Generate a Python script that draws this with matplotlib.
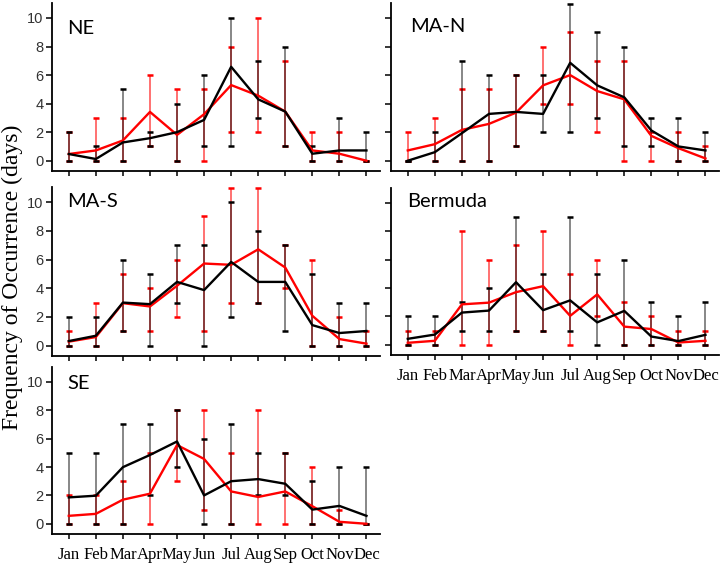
import matplotlib
matplotlib.use('Agg')
import matplotlib.pyplot as plt
import numpy as np

months = ['Jan', 'Feb', 'Mar', 'Apr', 'May', 'Jun', 'Jul', 'Aug', 'Sep', 'Oct', 'Nov', 'Dec']
yticks = [0, 2, 4, 6, 8, 10]

# NE
ne_black = [0.47, 0.12, 1.28, 1.58, 2.0, 2.86, 6.58, 4.3, 3.44, 0.49, 0.72, 0.72]
ne_red = [0.47, 0.72, 1.42, 3.42, 1.81, 3.26, 5.3, 4.56, 3.44, 0.72, 0.49, 0.0]
ne_black_lo = [0, 0, 0, 1, 0, 1, 1, 3, 1, 0, 0, 0]
ne_black_hi = [2, 1, 5, 2, 4, 6, 10, 7, 8, 1, 3, 2]
ne_red_lo = [0, 0, 0, 1, 0, 0, 2, 2, 1, 0, 0, 0]
ne_red_hi = [2, 3, 3, 6, 5, 5, 8, 10, 7, 2, 2, 0]

# MA-N
man_black = [0.0, 0.6, 1.93, 3.28, 3.42, 3.28, 6.86, 5.28, 4.44, 2.12, 1.0, 0.72]
man_red = [0.72, 1.16, 2.16, 2.58, 3.37, 5.28, 6.0, 4.88, 4.3, 1.74, 0.88, 0.16]
man_black_lo = [0, 0, 0, 0, 1, 2, 2, 3, 1, 1, 0, 0]
man_black_hi = [0, 2, 7, 6, 6, 6, 11, 9, 8, 3, 3, 2]
man_red_lo = [0, 0, 0, 0, 1, 4, 4, 2, 0, 0, 0, 0]
man_red_hi = [2, 3, 5, 5, 6, 8, 9, 7, 7, 2, 2, 1]

# MA-S
mas_black = [0.32, 0.69, 3.0, 2.89, 4.44, 3.87, 5.83, 4.44, 4.44, 1.43, 0.88, 1.02]
mas_red = [0.28, 0.6, 2.96, 2.73, 4.17, 5.72, 5.63, 6.71, 5.44, 2.08, 0.46, 0.14]
mas_black_lo = [0, 0, 1, 0, 3, 0, 2, 3, 1, 0, 0, 0]
mas_black_hi = [2, 2, 6, 5, 7, 7, 10, 8, 7, 5, 3, 3]
mas_red_lo = [0, 0, 1, 1, 2, 1, 3, 3, 4, 0, 0, 0]
mas_red_hi = [1, 3, 5, 4, 6, 9, 11, 11, 7, 6, 2, 1]

# Bermuda
ber_black = [0.42, 0.72, 2.27, 2.41, 4.41, 2.44, 3.13, 1.58, 2.39, 0.58, 0.26, 0.7]
ber_red = [0.14, 0.28, 2.85, 2.97, 3.71, 4.13, 2.04, 3.55, 1.28, 1.11, 0.16, 0.28]
ber_black_lo = [0, 0, 1, 1, 1, 1, 1, 0, 0, 0, 0, 0]
ber_black_hi = [2, 2, 3, 4, 9, 5, 9, 5, 6, 3, 2, 3]
ber_red_lo = [0, 0, 0, 0, 1, 1, 0, 2, 0, 0, 0, 0]
ber_red_hi = [1, 1, 8, 6, 7, 8, 5, 6, 3, 2, 1, 1]

# SE
se_black = [1.86, 1.98, 3.99, 4.85, 5.8, 2.0, 3.0, 3.15, 2.82, 1.0, 1.26, 0.56]
se_red = [0.56, 0.7, 1.7, 2.12, 5.55, 4.57, 2.28, 1.89, 2.28, 1.24, 0.14, 0.0]
se_black_lo = [0, 0, 0, 2, 4, 0, 0, 2, 2, 0, 0, 0]
se_black_hi = [5, 5, 7, 7, 8, 6, 7, 5, 5, 3, 4, 4]
se_red_lo = [0, 0, 0, 0, 3, 1, 0, 0, 0, 0, 0, 0]
se_red_hi = [2, 2, 3, 5, 8, 8, 5, 8, 5, 4, 1, 0]

W, H = 727, 568
fig = plt.figure(figsize=(W / 100, H / 100), dpi=100)


def add_ax(x0, x1, y0, y1):
    return fig.add_axes([x0 / W, 1 - y1 / H, (x1 - x0) / W, (y1 - y0) / H])


panels = [
    ('NE', (52, 380, 3, 171), (0.046, 0.848), True, False,
     ne_black, ne_red, ne_black_lo, ne_black_hi, ne_red_lo, ne_red_hi),
    ('MA-N', (391, 719, 3, 171), (0.058, 0.86), False, False,
     man_black, man_red, man_black_lo, man_black_hi, man_red_lo, man_red_hi),
    ('MA-S', (52, 380, 187, 356), (0.046, 0.914), True, False,
     mas_black, mas_red, mas_black_lo, mas_black_hi, mas_red_lo, mas_red_hi),
    ('Bermuda', (391, 719, 188, 355), (0.049, 0.919), False, True,
     ber_black, ber_red, ber_black_lo, ber_black_hi, ber_red_lo, ber_red_hi),
    ('SE', (52, 380, 367, 534), (0.046, 0.901), True, True,
     se_black, se_red, se_black_lo, se_black_hi, se_red_lo, se_red_hi),
]

x = np.arange(len(months))

for (name, box, tpos, ylab, xlab, blk, red, blo, bhi, rlo, rhi) in panels:
    ax = add_ax(*box)
    blk = np.array(blk, float)
    red = np.array(red, float)
    r_err = [np.maximum(red - np.array(rlo), 0), np.maximum(np.array(rhi) - red, 0)]
    b_err = [np.maximum(blk - np.array(blo), 0), np.maximum(np.array(bhi) - blk, 0)]

    eb = ax.errorbar(x, red, yerr=r_err, fmt='none', ecolor='#ff0000',
                     elinewidth=1.2, capsize=2.2, capthick=1.8, zorder=2)
    eb[2][0].set_alpha(0.65)
    for c in eb[1]:
        c.set_clip_on(False)
    eb[2][0].set_clip_on(False)
    eb = ax.errorbar(x, blk, yerr=b_err, fmt='none', ecolor='black',
                     elinewidth=1.2, capsize=2.2, capthick=1.8, zorder=2.5)
    eb[2][0].set_alpha(0.55)
    for c in eb[1]:
        c.set_clip_on(False)
    eb[2][0].set_clip_on(False)

    ax.plot(x, red, color='#ff0000', lw=1.7, zorder=3, clip_on=False)
    ax.plot(x, blk, color='black', lw=1.7, zorder=4, clip_on=False)

    ax.set_xlim(-0.62, 11.5)
    ax.set_ylim(-0.72, 11.05)
    ax.set_xticks(x)
    ax.set_yticks(yticks)
    for s in ['top', 'right']:
        ax.spines[s].set_visible(False)
    for s in ['left', 'bottom']:
        ax.spines[s].set_linewidth(1.3)
    ax.tick_params(axis='both', direction='out', width=1.1, color='black')
    ax.tick_params(axis='y', length=4, pad=2, labelsize=10.5, labelcolor='#333333')
    ax.tick_params(axis='x', length=3.5, pad=6)
    if ylab:
        ax.set_yticklabels([str(v) for v in yticks], family='Liberation Sans')
    else:
        ax.set_yticklabels([])
    if xlab:
        ax.set_xticklabels(months, family='Liberation Serif', fontsize=12)
    else:
        ax.set_xticklabels([])
    ax.text(tpos[0], tpos[1], name, transform=ax.transAxes, ha='left', va='center',
            fontsize=14.5, family='Lato', color='black')
    ax.patch.set_alpha(0)

fig.text(0.017, 0.512, 'Frequency of Occurrence (days)', rotation=90, ha='center',
         va='center', fontsize=17, family='Liberation Serif')

fig.savefig('out.png', dpi=100)
